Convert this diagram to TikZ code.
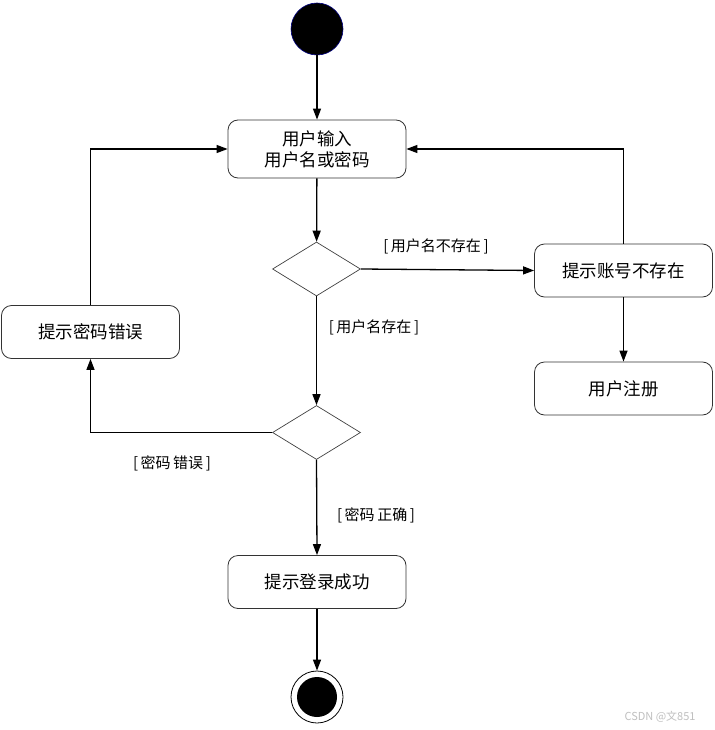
\documentclass[tikz,border=0pt]{standalone}
\usepackage{fontspec}
\newfontfamily\cjk{Noto Sans CJK SC}
\usetikzlibrary{arrows.meta,shapes.geometric,calc}
\tikzset{
  actbox/.style={draw=black!80, line width=0.8pt, rounded corners=10pt, minimum width=178pt, minimum height=53pt, align=center, font=\cjk\fontsize{17.5}{21}\selectfont, inner sep=0pt},
  decision/.style={draw=black!75, line width=0.7pt, diamond, minimum width=88pt, minimum height=54pt, inner sep=0pt, aspect=1.6},
  flow/.style={line width=1.3pt, -{Triangle[length=11pt,width=8pt]}},
  guard/.style={font=\cjk\fontsize{15}{17}\selectfont, inner sep=0pt}
}
\begin{document}
\begin{tikzpicture}[x=1pt,y=-1pt]
\useasboundingbox (0,0) rectangle (714,730);
\node[circle, fill=black, draw=blue!50!black, line width=0.6pt, minimum size=52pt, inner sep=0pt] (start) at (317,29) {};
\node[actbox, minimum height=58pt] (input) at (317,149) {用户输入\\用户名或密码};
\node[decision] (d1) at (316.5,269) {};
\node[actbox] (noacc) at (623.5,270.5) {提示账号不存在};
\node[actbox] (reg) at (623.5,388.5) {用户注册};
\node[actbox] (pwerr) at (90.5,332) {提示密码错误};
\node[decision] (d2) at (316.5,432.5) {};
\node[actbox] (ok) at (317,582) {提示登录成功};
\node[circle, draw=black, line width=0.8pt, minimum size=52pt, inner sep=0pt] (end) at (317,697) {};
\node[circle, fill=black, minimum size=40pt, inner sep=0pt] (endin) at (end.center) {};

\draw[flow] (start) -- (input);
\draw[flow] (input) -- (d1);
\draw[flow] (d1.east) -- (noacc.west);
\draw[flow] (noacc.north) |- (input.east);
\draw[flow] (noacc) -- (reg);
\draw[flow] (d1.south) -- (d2.north);
\draw[flow] (d2.west) -| (pwerr.south);
\draw[flow] (pwerr.north) |- (input.west);
\draw[flow] (d2.south) -- (ok.north);
\draw[flow] (ok) -- (end);

\node[guard] (g1) at (436,246) {[\,用户名不存在\,]};
\node[guard] (g2) at (374,327) {[\,用户名存在\,]};
\node[guard] (g3) at (172,463) {[\,密码\,错误\,]};
\node[guard] (g4) at (376,515) {[\,密码\,正确\,]};
\node[font=\cjk\fontsize{11}{13}\selectfont, text=black!25, inner sep=0pt] (wm) at (660,717) {CSDN @文851};
\end{tikzpicture}
\end{document}
